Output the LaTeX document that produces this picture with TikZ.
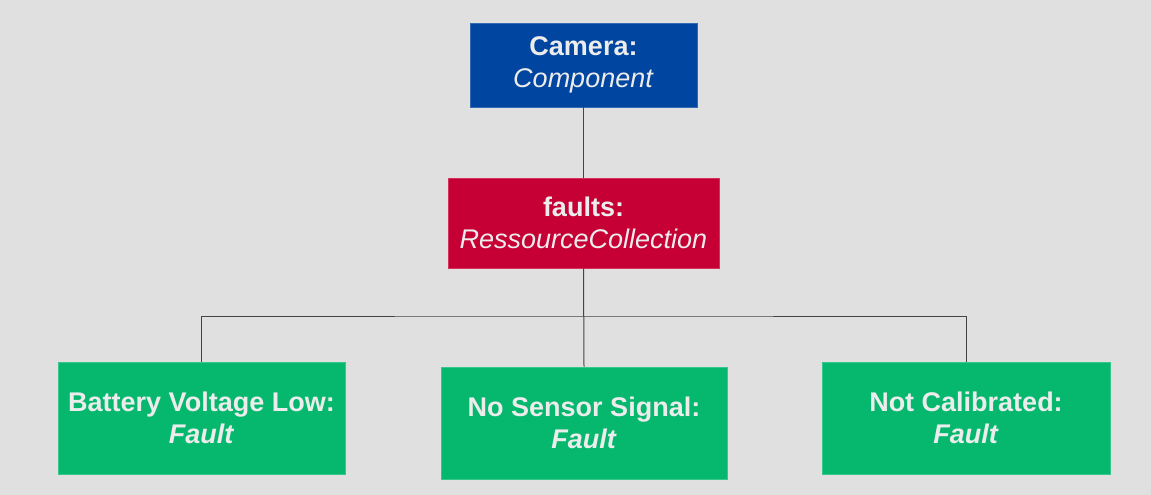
\documentclass[tikz,border=0pt]{standalone}
\usepackage{fontspec}
\setmainfont{Liberation Sans}
\definecolor{bgray}{HTML}{E0E0E0}
\definecolor{compblue}{HTML}{0045A0}
\definecolor{collred}{HTML}{C60035}
\definecolor{faultgreen}{HTML}{05B86E}
\definecolor{boxtext}{HTML}{ECECEC}
\definecolor{wire}{HTML}{444444}
\tikzset{
    box/.style={draw=#1!80!white, fill=#1, text=boxtext, align=center,
        inner sep=0pt, line width=0.8pt,
        font=\fontsize{27}{32}\selectfont},
    wire/.style={draw=wire, line width=1pt}
}
\begin{document}
\begin{tikzpicture}[x=1pt,y=-1pt]

% Background
\fill[bgray] (0,0) rectangle (1151,495);
\useasboundingbox (0,0) rectangle (1151,495);

% Component
\node[box=compblue,
    minimum width=227pt,
    minimum height=84pt] (camera) at (583.5,65){\textbf{Camera:}\\\textit{Component}};

% Collection
\node[box=collred,
    minimum width=271pt,
    minimum height=90pt] (faults) at (583.5,223){\textbf{faults:}\\\textit{RessourceCollection}};

% Faults
\node[box=faultgreen,
    minimum width=287pt,
    minimum height=112pt] (battery) at (201.5,418){\textbf{Battery Voltage Low:}\\\textbf{\textit{Fault}}};
\node[box=faultgreen,
    minimum width=286pt,
    minimum height=112pt] (sensor) at (584,423){\textbf{No Sensor Signal:}\\\textbf{\textit{Fault}}};
\node[box=faultgreen,
    minimum width=288pt,
    minimum height=112pt] (calib) at (966,418){\textbf{Not Calibrated:}\\\textbf{\textit{Fault}}};

% Bus line
\coordinate (bus) at (584,316);

% Connectors
\draw[wire] (camera.south) -- (faults.north);
\draw[wire] (faults.south) -- (sensor.north);
\draw[wire] (battery.north) |- (bus) -| (calib.north);

\end{tikzpicture}
\end{document}
